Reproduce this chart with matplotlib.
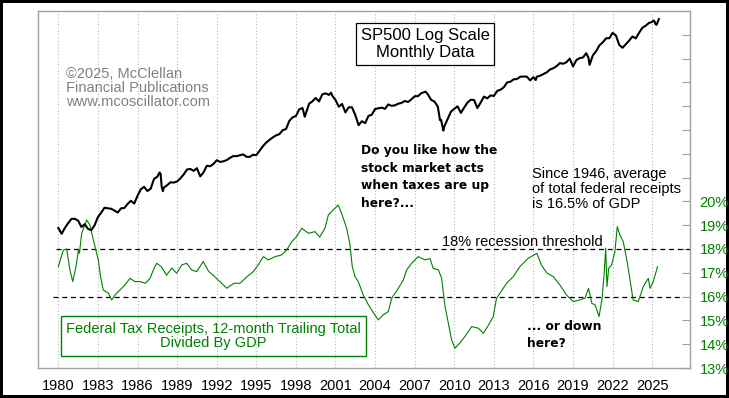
import matplotlib
matplotlib.use('Agg')
import matplotlib.pyplot as plt
from matplotlib.patches import Rectangle

# S&P 500 closes (decimal year, value), mostly quarter ends
sp_t = [1980.0, 1980.25, 1980.5, 1980.75, 1981.0,
        1981.25, 1981.5, 1981.75, 1982.0, 1982.25, 1982.5, 1982.75, 1983.0,
        1983.25, 1983.5, 1983.75, 1984.0, 1984.25, 1984.5, 1984.75, 1985.0,
        1985.25, 1985.5, 1985.75, 1986.0, 1986.25, 1986.5, 1986.75, 1987.0,
        1987.25, 1987.5, 1987.67, 1987.75, 1987.83, 1987.92, 1988.0,
        1988.25, 1988.5, 1988.75, 1989.0, 1989.25, 1989.5, 1989.75, 1990.0,
        1990.25, 1990.5, 1990.75, 1991.0, 1991.25, 1991.5, 1991.75, 1992.0,
        1992.25, 1992.5, 1992.75, 1993.0, 1993.25, 1993.5, 1993.75, 1994.0,
        1994.25, 1994.5, 1994.75, 1995.0, 1995.25, 1995.5, 1995.75, 1996.0,
        1996.25, 1996.5, 1996.75, 1997.0, 1997.25, 1997.5, 1997.75, 1998.0,
        1998.25, 1998.5, 1998.67, 1998.75, 1999.0, 1999.25, 1999.5, 1999.75, 2000.0,
        2000.25, 2000.5, 2000.67, 2000.75, 2001.0, 2001.25, 2001.5, 2001.75, 2002.0,
        2002.25, 2002.5, 2002.75, 2003.0, 2003.25, 2003.5, 2003.75, 2004.0,
        2004.25, 2004.5, 2004.75, 2005.0, 2005.25, 2005.5, 2005.75, 2006.0,
        2006.25, 2006.5, 2006.75, 2007.0, 2007.25, 2007.5, 2007.83, 2008.0,
        2008.25, 2008.5, 2008.75, 2008.92, 2009.0, 2009.17, 2009.25, 2009.5, 2009.75, 2010.0,
        2010.25, 2010.5, 2010.75, 2011.0, 2011.25, 2011.5, 2011.75, 2012.0,
        2012.25, 2012.5, 2012.75, 2013.0, 2013.25, 2013.5, 2013.75, 2014.0,
        2014.25, 2014.5, 2014.75, 2015.0, 2015.25, 2015.5, 2015.75, 2016.0,
        2016.17, 2016.25, 2016.5, 2016.75, 2017.0, 2017.25, 2017.5, 2017.75, 2018.0,
        2018.25, 2018.5, 2018.75, 2019.0, 2019.25, 2019.5, 2019.75, 2020.0,
        2020.17, 2020.25, 2020.5, 2020.75, 2021.0, 2021.25, 2021.5, 2021.75, 2022.0,
        2022.25, 2022.5, 2022.75, 2023.0, 2023.25, 2023.5, 2023.75, 2024.0,
        2024.25, 2024.5, 2024.75, 2025.0, 2025.08, 2025.17, 2025.25, 2025.33,
        2025.42, 2025.5]
sp_v = [114.2, 102.1, 114.2, 125.5, 135.8,
        136.0, 131.2, 116.2, 122.6, 112.0, 109.6, 120.4, 140.6,
        153.0, 168.1, 166.1, 164.9, 159.2, 153.2, 166.1, 167.2,
        180.7, 191.9, 182.1, 211.3, 238.9, 250.8, 231.3, 242.2,
        291.7, 304.0, 329.8, 321.8, 251.8, 230.3, 247.1,
        258.9, 273.5, 271.9, 277.7, 294.9, 318.0, 349.2, 353.4,
        339.9, 358.0, 306.1, 330.2, 375.2, 371.2, 387.9, 417.1,
        403.7, 408.1, 417.8, 435.7, 451.7, 450.5, 458.9, 466.5,
        445.8, 444.3, 462.7, 459.3, 500.7, 544.8, 584.4, 615.9,
        645.5, 670.6, 687.3, 740.7, 757.1, 885.1, 947.3, 970.4,
        1101.8, 1133.8, 957.3, 1017.0, 1229.2, 1286.4, 1372.7, 1282.7, 1469.3,
        1498.6, 1454.6, 1517.7, 1436.5, 1320.3, 1160.3, 1224.4, 1040.9, 1148.1,
        1147.4, 989.8, 815.3, 879.8, 848.2, 974.5, 996.0, 1111.9,
        1126.2, 1140.8, 1114.6, 1211.9, 1180.6, 1191.3, 1228.8, 1248.3,
        1294.8, 1270.2, 1335.9, 1418.3, 1420.9, 1503.4, 1549.4, 1468.4,
        1322.7, 1280.0, 1166.4, 896.2, 903.3, 735.1, 797.9, 919.3, 1057.1, 1115.1,
        1169.4, 1030.7, 1141.2, 1257.6, 1325.8, 1320.6, 1131.4, 1257.6,
        1408.5, 1362.2, 1440.7, 1426.2, 1569.2, 1606.3, 1681.6, 1848.4,
        1872.3, 1960.2, 1972.3, 2058.9, 2067.9, 2063.1, 1920.0, 2043.9,
        1932.2, 2059.7, 2098.9, 2168.3, 2238.8, 2362.7, 2423.4, 2519.4, 2673.6,
        2640.9, 2718.4, 2914.0, 2506.9, 2834.4, 2941.8, 2976.7, 3230.8,
        2954.2, 2584.6, 3100.3, 3363.0, 3756.1, 3972.9, 4297.5, 4307.5, 4766.2,
        4530.4, 3785.4, 3585.6, 3839.5, 4109.3, 4450.4, 4288.1, 4769.8,
        5254.4, 5460.5, 5762.5, 5881.6, 6040.5, 5954.5, 5611.9, 5569.1,
        5911.7, 6204.9]

# federal receipts / GDP, %
tax_t = [1980.0, 1980.38, 1980.63, 1980.76, 1980.88, 1981.09, 1981.34, 1981.52, 1981.6,
         1981.77, 1982.15, 1982.4, 1982.65, 1983.03, 1983.2, 1983.4, 1983.8, 1984.04,
         1984.3, 1984.67, 1985.05, 1985.43, 1985.8, 1986.2, 1986.6, 1986.95, 1987.2,
         1987.45, 1987.8, 1988.2, 1988.6, 1988.97, 1989.35, 1989.73, 1990.1, 1990.48,
         1990.98, 1991.4, 1991.74, 1992.1, 1992.25, 1992.76, 1993.3, 1993.77, 1994.3,
         1994.77, 1995.15, 1995.53, 1995.9, 1996.42, 1996.92, 1997.3, 1997.68, 1998.05,
         1998.44, 1998.95, 1999.45, 1999.8, 2000.2, 2000.46, 2000.83, 2001.21, 2001.46,
         2001.85, 2002.1, 2002.27, 2002.48, 2002.73, 2003.1, 2003.5, 2003.9, 2004.24,
         2004.6, 2005.0, 2005.26, 2005.76, 2006.14, 2006.39, 2006.77, 2007.27, 2007.78,
         2008.16, 2008.4, 2008.8, 2009.04, 2009.3, 2009.55, 2009.8, 2010.05, 2010.42,
         2010.8, 2011.32, 2011.83, 2012.2, 2012.6, 2012.95, 2013.2, 2013.46, 2013.96,
         2014.47, 2014.97, 2015.6, 2016.26, 2016.6, 2017.0, 2017.5, 2018.0, 2018.5,
         2019.02, 2019.5, 2019.9, 2020.17, 2020.42, 2020.67, 2020.97, 2021.2, 2021.36,
         2021.47, 2021.57, 2021.7, 2021.92, 2022.17, 2022.35, 2022.55, 2022.8, 2023.05,
         2023.3, 2023.55, 2023.94, 2024.32, 2024.7, 2024.83, 2025.08, 2025.4]
tax_v = [17.26, 17.96, 18.0, 17.54, 17.12, 16.63, 17.26, 17.96, 17.82,
         18.66, 19.22, 19.0, 18.38, 17.54, 16.84, 16.28, 16.14, 15.86,
         16.07, 16.28, 16.49, 16.77, 16.63, 16.63, 16.56, 16.77, 17.12,
         17.4, 17.26, 16.9, 17.2, 16.98, 17.33, 17.4, 17.12, 17.05,
         17.47, 17.05, 16.9, 16.7, 16.63, 16.35, 16.56, 16.56, 16.84,
         17.05, 17.33, 17.68, 17.54, 17.68, 17.75, 17.96, 18.3, 18.52,
         18.87, 18.66, 18.73, 18.5, 18.87, 19.43, 19.64, 19.85, 19.5,
         18.87, 18.17, 17.26, 16.84, 16.63, 16.07, 15.65, 15.3, 15.02,
         15.23, 15.37, 15.93, 16.35, 16.7, 17.12, 17.4, 17.68, 17.54,
         17.6, 17.19, 17.12, 16.77, 15.58, 14.88, 14.18, 13.83, 14.05,
         14.32, 14.74, 14.67, 14.46, 14.81, 15.16, 15.93, 16.14, 16.56,
         16.84, 17.26, 17.61, 17.82, 17.33, 17.0, 16.84, 16.49, 16.07,
         15.79, 15.86, 15.93, 16.35, 15.72, 15.65, 15.16, 15.93, 16.98,
         18.03, 16.42, 17.19, 17.33, 17.89, 18.94, 18.59, 18.31, 17.61,
         16.77, 15.86, 15.79, 16.42, 16.77, 16.35, 16.63, 17.26]

year_ticks = list(range(1980, 2026, 3))
pct_ticks = list(range(13, 29))
pct_labels = ['%d%%' % p if p <= 20 else '' for p in pct_ticks]

green = '#008000'
frame = '#a0a0a0'

fig = plt.figure(figsize=(7.29, 3.98), dpi=100)
fig.patch.set_facecolor('white')
fig.patch.set_edgecolor('black')
fig.patch.set_linewidth(3)

ax = fig.add_axes([38 / 729, 30 / 398, 652 / 729, 357 / 398])
ax.set_xlim(1978.46, 2027.86)
ax.set_ylim(13, 28)
for s in ax.spines.values():
    s.set_color(frame)
    s.set_linewidth(1)

ax.set_xticks(year_ticks)
ax.set_xticklabels([str(y) for y in year_ticks], family='Liberation Sans', fontsize=10.5)
ax.tick_params(axis='x', length=0, pad=8)
ax.grid(axis='x', color='#b4b4b4', linestyle=(0, (1, 2)), linewidth=0.8)

ax.plot(tax_t, tax_v, color=green, linewidth=0.8, zorder=3)
ax.axhline(18, xmin=0.027, xmax=1.0, color='black', linestyle=(0, (4, 3)), linewidth=0.9, zorder=2)
ax.axhline(16, xmin=0.023, xmax=0.99, color='black', linestyle=(0, (4, 3)), linewidth=0.9, zorder=2)

# SP500 on hidden log axis
ax_sp = ax.twinx()
ax_sp.set_yscale('log')
ax_sp.set_ylim(7.83, 7244)
ax_sp.yaxis.set_visible(False)
for s in ax_sp.spines.values():
    s.set_visible(False)
ax_sp.plot(sp_t, sp_v, color='black', linewidth=1.5, zorder=4)

# right-hand percent axis (after twinx, which resets the side)
ax.yaxis.tick_right()
ax.set_yticks(pct_ticks)
ax.set_yticklabels(pct_labels, family='Liberation Sans', fontsize=10.5, color=green)
ax.tick_params(axis='y', which='both', left=False, right=True, labelleft=False, labelright=True,
               direction='in', length=6, color=frame, pad=7)

reg = dict(family='Liberation Sans', fontsize=10.5)
bold = dict(family='DejaVu Sans', fontsize=8.8, fontweight='bold')

def px(x, y):
    return (x / 729, 1 - y / 398)

fig.text(*px(425, 44), 'SP500 Log Scale\nMonthly Data', ha='center', va='center', family='Liberation Sans',
         fontsize=12, linespacing=1.2,
         bbox=dict(boxstyle='square,pad=0.28', fc='white', ec='black', lw=0.9))
fig.text(*px(66, 88), '\u00a92025, McClellan\nFinancial Publications\nwww.mcoscillator.com',
         ha='left', va='center', color='#808080', linespacing=1.02, **reg)
fig.text(*px(361, 177), 'Do you like how the\nstock market acts\nwhen taxes are up\nhere?...',
         ha='left', va='center', linespacing=1.45, **bold)
fig.text(*px(532, 189), 'Since 1946, average\nof total federal receipts\nis 16.5% of GDP',
         ha='left', va='center', linespacing=1.07, **reg)
fig.text(*px(522, 242), '18% recession threshold', ha='center', va='center', **reg)
fig.text(*px(527, 335), '... or down\nhere?', ha='left', va='center', linespacing=1.45, **bold)
fig.text(*px(213, 336), 'Federal Tax Receipts, 12-month Trailing Total\nDivided By GDP',
         ha='center', va='center', color=green, linespacing=1.09, **reg)
fig.patches.append(Rectangle(px(61, 356), 304.7 / 729, 40.3 / 398, transform=fig.transFigure,
                             fill=False, edgecolor=green, linewidth=1))

fig.savefig('out.png', dpi=100)
